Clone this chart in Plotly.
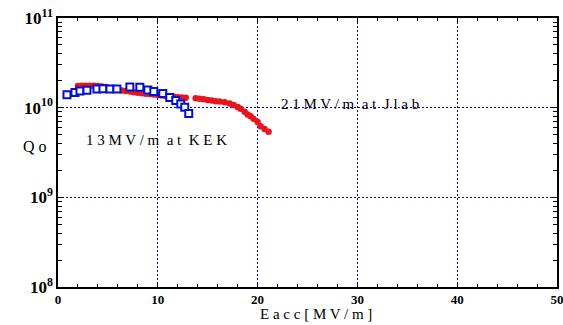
import plotly.graph_objects as go

# Red circles: 21 MV/m at Jlab
jlab_e = [2.0, 2.4, 2.8, 3.2, 3.6, 4.0, 4.4, 4.8, 5.2, 5.6, 6.0, 6.4, 6.8, 7.2, 7.6, 8.0,
          8.4, 8.8, 9.2, 9.6, 10.0, 10.4, 10.8, 11.2, 11.6, 12.0, 12.4, 12.8,
          13.8, 14.2, 14.6, 15.0, 15.4, 15.8, 16.2, 16.7, 17.2, 17.6, 18.0, 18.3,
          18.7, 19.0, 19.3, 19.6, 20.0, 20.3, 20.7, 21.1]
jlab_q = [1.74e10, 1.75e10, 1.75e10, 1.76e10, 1.75e10, 1.74e10, 1.72e10, 1.70e10, 1.66e10,
          1.62e10, 1.58e10, 1.55e10, 1.53e10, 1.51e10, 1.49e10, 1.47e10, 1.45e10, 1.43e10,
          1.42e10, 1.40e10, 1.38e10, 1.37e10, 1.35e10, 1.34e10, 1.32e10, 1.31e10, 1.30e10,
          1.29e10, 1.27e10, 1.26e10, 1.24e10, 1.22e10, 1.20e10, 1.18e10, 1.17e10, 1.15e10,
          1.11e10, 1.07e10, 1.02e10, 0.97e10, 0.90e10, 0.84e10, 0.80e10, 0.75e10, 0.69e10,
          0.62e10, 0.58e10, 0.54e10]

# Blue squares: 13 MV/m at KEK
kek_e = [0.9, 1.7, 2.2, 2.9, 3.9, 4.5, 5.2, 5.9, 7.2, 8.2, 9.0, 9.6, 10.5, 11.2, 11.8, 12.3, 12.7, 13.1]
kek_q = [1.39e10, 1.48e10, 1.53e10, 1.56e10, 1.61e10, 1.63e10, 1.61e10, 1.61e10, 1.70e10,
         1.69e10, 1.57e10, 1.51e10, 1.44e10, 1.30e10, 1.20e10, 1.10e10, 1.01e10, 0.86e10]

x_ticks = [0, 10, 20, 30, 40, 50]
y_ticks = [1e8, 1e9, 1e10, 1e11]
y_tick_text = ["<b>10<sup>8</sup></b>", "<b>10<sup>9</sup></b>",
               "<b>10<sup>10</sup></b>", "<b>10<sup>11</sup></b>"]
y_minor = [m * d for d in (1e8, 1e9, 1e10) for m in range(2, 10)]

serif = "Liberation Serif, Times New Roman, serif"
grid_blue = "#0000ff"

fig = go.Figure()
fig.add_trace(go.Scatter(x=jlab_e, y=jlab_q, mode="markers",
                         marker=dict(symbol="circle", size=6.5, color="#e8141e"),
                         showlegend=False))
fig.add_trace(go.Scatter(x=kek_e, y=kek_q, mode="markers",
                         marker=dict(symbol="square", size=7, color="white",
                                     line=dict(color="#0010d0", width=2)),
                         showlegend=False))

fig.update_xaxes(range=[0, 50], tickvals=x_ticks,
                 ticktext=["<b>%d</b>" % v for v in x_ticks],
                 ticks="inside", ticklen=5, tickcolor="black",
                 showline=True, linecolor="black", linewidth=1.5, mirror="ticks",
                 showgrid=True, gridcolor=grid_blue, griddash="2px,2px", gridwidth=1,
                 zeroline=False, automargin=False, ticklabeloverflow="allow",
                 minor=dict(dtick=2, ticks="inside", ticklen=3, tickcolor="black", showgrid=False),
                 tickfont=dict(family=serif, size=13, color="black"))
fig.update_yaxes(type="log", range=[8, 11], tickvals=y_ticks, ticktext=y_tick_text,
                 ticks="inside", ticklen=5, tickcolor="black",
                 showline=True, linecolor="black", linewidth=1.5, mirror="ticks",
                 showgrid=True, gridcolor=grid_blue, griddash="2px,2px", gridwidth=1,
                 zeroline=False, automargin=False, ticklabeloverflow="allow",
                 minor=dict(tickvals=y_minor, ticks="inside", ticklen=4, tickcolor="black",
                            showgrid=False),
                 tickfont=dict(family=serif, size=17, color="black"))

fig.add_annotation(text="E a c c [ M V / m ]", xref="paper", yref="paper", x=0.517, y=-0.1,
                   showarrow=False, font=dict(family=serif, size=15, color="black"),
                   xanchor="center", yanchor="middle")
fig.add_annotation(text="Q o", xref="paper", yref="paper", x=-0.046, y=0.524,
                   showarrow=False, font=dict(family=serif, size=16, color="black"),
                   xanchor="center")
fig.add_annotation(text="2 1 M V / m  a t  J l a b", x=29.3, y=10.044, xref="x", yref="y",
                   showarrow=False, font=dict(family=serif, size=15, color="black"))
fig.add_annotation(text="1 3 M V / m  a t  K E K", x=9.9, y=9.644, xref="x", yref="y",
                   showarrow=False, font=dict(family=serif, size=15, color="black"))

fig.update_layout(width=563, height=325, margin=dict(l=58, r=6, t=18, b=38),
                  plot_bgcolor="white", paper_bgcolor="white")
fig.write_html("out.html", config={"displayModeBar": False},
               post_script="document.body.style.margin='0';document.body.style.overflow='hidden';")
